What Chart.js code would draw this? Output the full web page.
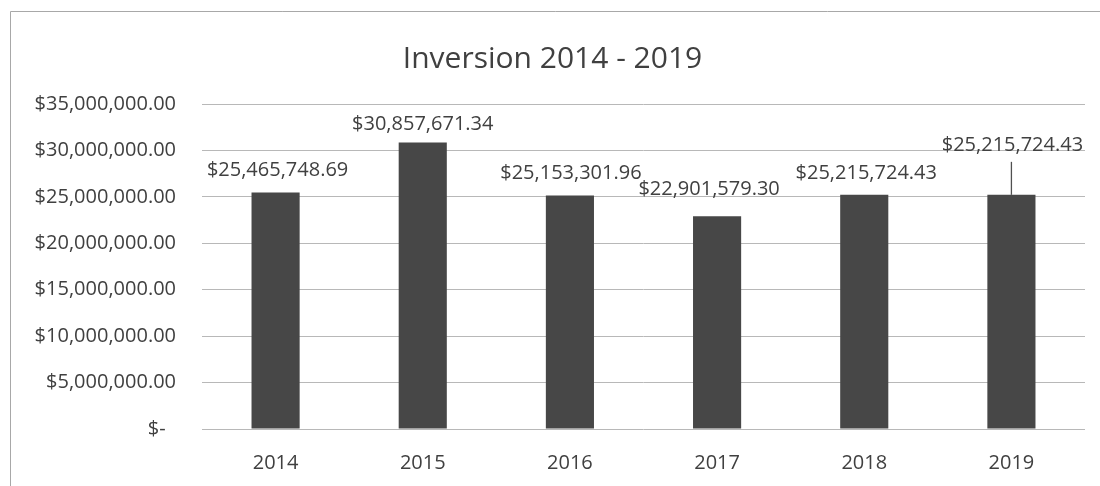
<!DOCTYPE html>
<html>
<head>
<meta charset="utf-8">
<script src="https://cdn.jsdelivr.net/npm/chart.js@4/dist/chart.umd.min.js"></script>
<style>
  html, body { margin: 0; padding: 0; background: #fff; }
  #wrap { width: 1100px; height: 486px; position: relative; }
</style>
</head>
<body>
<div id="wrap"><canvas id="inversionChart"></canvas></div>
<script>
  const years = ["2014", "2015", "2016", "2017", "2018", "2019"];
  const inversion = [25465748.69, 30857671.34, 25153301.96, 22901579.30, 25215724.43, 25215724.43];
  const yTicks = [0, 5000000, 10000000, 15000000, 20000000, 25000000, 30000000, 35000000];

  const textColor = "#404040";
  const fontFamily = "'Open Sans', 'Noto Sans', sans-serif";

  function money(v) {
    if (v === 0) return "$-  ";
    return "$" + v.toLocaleString("en-US", { minimumFractionDigits: 2, maximumFractionDigits: 2 });
  }

  // labels above bars, last one lifted with a leader line
  const valueLabels = {
    id: "valueLabels",
    afterDatasetsDraw(chart) {
      const ctx = chart.ctx;
      const meta = chart.getDatasetMeta(0);
      ctx.save();
      ctx.font = "20px " + fontFamily;
      ctx.fillStyle = textColor;
      ctx.textAlign = "center";
      ctx.textBaseline = "middle";
      const lift = [22, 18, 22, 27, 22, 50];
      const shiftX = [2, 0, 1, -8, 2, 1];
      meta.data.forEach((bar, i) => {
        const x = bar.x + shiftX[i];
        const y = bar.y - lift[i];
        ctx.fillText(money(inversion[i]), x, y);
        if (i === inversion.length - 1) {
          ctx.strokeStyle = "#505050";
          ctx.lineWidth = 1.3;
          ctx.beginPath();
          ctx.moveTo(bar.x, y + 17);
          ctx.lineTo(bar.x, bar.y);
          ctx.stroke();
        }
      });
      ctx.restore();
    }
  };

  const frame = {
    id: "frame",
    beforeDraw(chart) {
      const ctx = chart.ctx;
      ctx.save();
      ctx.fillStyle = "#fff";
      ctx.fillRect(0, 0, chart.width, chart.height);
      ctx.strokeStyle = "#a8a8a8";
      ctx.lineWidth = 1;
      ctx.beginPath();
      ctx.moveTo(10.5, chart.height);
      ctx.lineTo(10.5, 11.5);
      ctx.lineTo(chart.width, 11.5);
      ctx.stroke();
      ctx.restore();
    }
  };

  new Chart(document.getElementById("inversionChart"), {
    type: "bar",
    data: {
      labels: years,
      datasets: [{
        label: "Inversion",
        data: inversion,
        backgroundColor: "#474747",
        barPercentage: 0.327,
        categoryPercentage: 1
      }]
    },
    options: {
      responsive: true,
      maintainAspectRatio: false,
      animation: false,
      layout: { padding: { left: 20, right: 15, top: 10, bottom: 11 } },
      plugins: {
        legend: { display: false },
        tooltip: { enabled: false },
        title: {
          display: true,
          text: "Inversion 2014 - 2019",
          color: textColor,
          font: { family: fontFamily, size: 30, weight: "normal" },
          padding: { top: 31, bottom: 27 }
        }
      },
      scales: {
        y: {
          min: 0,
          max: 35000000,
          afterBuildTicks(axis) {
            axis.ticks = yTicks.map(v => ({ value: v }));
          },
          afterFit(axis) { axis.width = 182; },
          border: { display: false },
          grid: { color: "#b8b8b8", drawTicks: false, lineWidth: 1 },
          ticks: {
            color: textColor,
            padding: 26,
            font: { family: fontFamily, size: 20 },
            callback: v => money(v)
          }
        },
        x: {
          afterFit(axis) { axis.height = 46; },
          border: { display: false },
          grid: { display: false, drawTicks: false },
          ticks: {
            color: textColor,
            padding: 22,
            font: { family: fontFamily, size: 20 }
          }
        }
      }
    },
    plugins: [frame, valueLabels]
  });
</script>
</body>
</html>
